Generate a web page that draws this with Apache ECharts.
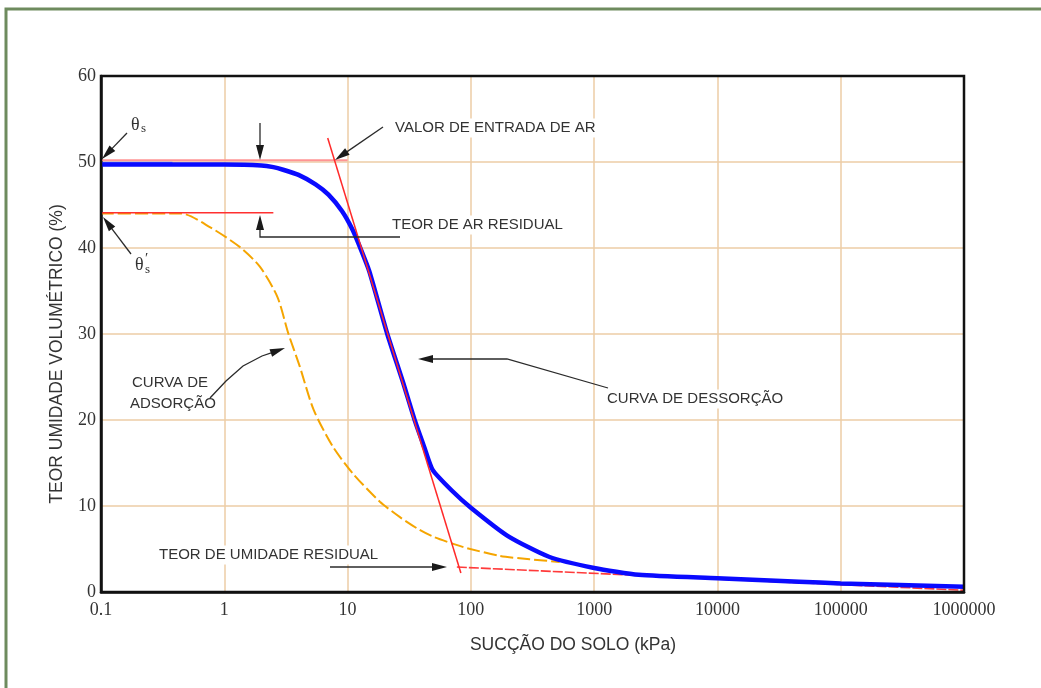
<!DOCTYPE html>
<html>
<head>
<meta charset="utf-8">
<script src="https://cdn.jsdelivr.net/npm/echarts@6/dist/echarts.min.js"></script>
<style>
  html, body { margin: 0; padding: 0; background: #ffffff; }
  #chart { width: 1041px; height: 688px; }
</style>
</head>
<body>
<div id="chart"></div>
<script>
// ---------- data ----------
const xTickLabels = ['0.1', '1', '10', '100', '1000', '10000', '100000', '1000000'];
const yTickLabels = ['0', '10', '20', '30', '40', '50', '60'];

// Curva de dessorção (blue, thick)
const suctionDes  = [0.1, 1, 2, 2.5, 3, 4, 5.5, 7, 9, 11, 12.6, 15, 21, 28, 35, 42, 49, 70, 100, 200, 430, 1000, 2300, 10000, 46000, 100000, 1000000];
const moistureDes = [49.7, 49.7, 49.6, 49.4, 49.1, 48.5, 47.4, 46.2, 44.3, 42.1, 40.1, 37.3, 30, 24.5, 20, 16.8, 14.2, 11.8, 9.8, 6.5, 4.1, 2.8, 2.0, 1.6, 1.2, 1.0, 0.6];

// Curva de adsorção (orange, dashed)
const suctionAds  = [0.1, 0.45, 0.77, 1.34, 1.95, 2.7, 3.3, 4.1, 5.3, 7.6, 11, 18.3, 26.6, 36.6, 50, 72, 93, 172, 300, 525];
const moistureAds = [44.0, 44.0, 42.4, 40.1, 37.8, 34.3, 30.1, 26.2, 21.2, 16.9, 13.8, 10.5, 8.7, 7.4, 6.4, 5.6, 5.1, 4.2, 3.8, 3.5];

// Construction lines (red)
const thetaSLineX   = [0.1, 10];    const thetaSLineY   = [50.2, 50.2];
const thetaSPLineX  = [0.1, 2.5];   const thetaSPLineY  = [44.1, 44.1];
const tangentX      = [6.9, 83];    const tangentY      = [52.8, 2.2];
const residualX     = [77, 1000000]; const residualY    = [2.9, 0.2];
const thinBlueX     = [0.1, 0.38];  const thinBlueY     = [49.95, 49.95];

// ---------- helpers ----------
const zip = (xs, ys) => xs.map((x, i) => [x, ys[i]]);

const chart = echarts.init(document.getElementById('chart'), null, { renderer: 'canvas' });

const txtColor = '#333333';
const sans = '"Liberation Sans", Arial, sans-serif';
const serif = '"Liberation Serif", "Times New Roman", serif';

// annotation layout (pixels)
const arrows = [
  { pts: [[127, 133], [102, 159]] },                      // theta_s
  { pts: [[131, 254], [103, 217]] },                      // theta_s'
  { pts: [[260, 123], [260, 160]] },                      // down arrow
  { pts: [[400, 237], [260, 237], [260, 215]] },          // teor de ar residual
  { pts: [[383, 127], [335, 160]] },                      // valor de entrada de ar
  { pts: [[210, 398], [226, 381], [243, 366], [262, 356], [285, 348]] }, // adsorção
  { pts: [[608, 388], [507, 359], [418, 359]] },          // dessorção
  { pts: [[330, 567], [447, 567]] }                       // umidade residual
];

const texts = [
  { t: 'VALOR DE ENTRADA DE AR', x: 393, y: 128 },
  { t: 'TEOR DE AR RESIDUAL', x: 390, y: 225 },
  { t: 'CURVA DE', x: 130, y: 383 },
  { t: 'ADSORÇÃO', x: 128, y: 404 },
  { t: 'CURVA DE DESSORÇÃO', x: 605, y: 399 },
  { t: 'TEOR DE UMIDADE RESIDUAL', x: 157, y: 555 }
];

const graphics = [];
// green frame
graphics.push({
  type: 'rect', silent: true, z: 0,
  shape: { x: 6, y: 9, width: 1200, height: 900 },
  style: { fill: null, stroke: '#6e8b5e', lineWidth: 3 }
});

arrows.forEach(a => {
  const p = a.pts;
  const n = p.length;
  const tip = p[n - 1], prev = p[n - 2];
  const dx = tip[0] - prev[0], dy = tip[1] - prev[1];
  const L = Math.hypot(dx, dy);
  const ux = dx / L, uy = dy / L;
  const len = 15, hw = 4;
  const bx = tip[0] - ux * len, by = tip[1] - uy * len;
  const linePts = p.slice(0, n - 1).concat([[bx + ux * 2, by + uy * 2]]);
  graphics.push({
    type: 'polyline', silent: true, z: 50,
    shape: { points: linePts },
    style: { stroke: '#2a2a2a', lineWidth: 1.3, fill: null }
  });
  graphics.push({
    type: 'polygon', silent: true, z: 50,
    shape: { points: [tip, [bx - uy * hw, by + ux * hw], [bx + uy * hw, by - ux * hw]] },
    style: { fill: '#1a1a1a' }
  });
});

texts.forEach(o => {
  graphics.push({
    type: 'text', silent: true, z: 45,
    x: o.x, y: o.y,
    style: {
      text: o.t, fill: txtColor, font: '15px ' + sans,
      textVerticalAlign: 'middle', verticalAlign: 'middle',
      backgroundColor: '#ffffff', padding: [2, 2, 2, 2]
    }
  });
});

// theta labels
graphics.push({ type: 'text', silent: true, z: 45, x: 131, y: 125,
  style: { text: 'θ', fill: txtColor, font: '18px ' + serif, verticalAlign: 'middle' } });
graphics.push({ type: 'text', silent: true, z: 45, x: 141, y: 129,
  style: { text: 's', fill: txtColor, font: '13px ' + serif, verticalAlign: 'middle' } });
graphics.push({ type: 'text', silent: true, z: 45, x: 135, y: 265,
  style: { text: 'θ', fill: txtColor, font: '18px ' + serif, verticalAlign: 'middle' } });
graphics.push({ type: 'text', silent: true, z: 45, x: 145, y: 259,
  style: { text: '′', fill: txtColor, font: '15px ' + serif, verticalAlign: 'middle' } });
graphics.push({ type: 'text', silent: true, z: 45, x: 145, y: 270,
  style: { text: 's', fill: txtColor, font: '13px ' + serif, verticalAlign: 'middle' } });

// axis titles
graphics.push({ type: 'text', silent: true, z: 45, x: 573, y: 645,
  style: { text: 'SUCÇÃO DO SOLO (kPa)', fill: txtColor, font: '17.5px ' + sans, align: 'center', verticalAlign: 'middle' } });
graphics.push({ type: 'text', silent: true, z: 45, x: 57, y: 354, rotation: Math.PI / 2,
  style: { text: 'TEOR UMIDADE VOLUMÉTRICO (%)', fill: txtColor, font: '17.5px ' + sans, align: 'center', verticalAlign: 'middle' } });

const gridColor = '#edcca6';

const option = {
  animation: false,
  backgroundColor: '#ffffff',
  grid: { left: 101, right: 77, top: 76, bottom: 96, show: true, borderColor: '#111', borderWidth: 2.5, backgroundColor: 'transparent', z: 10 },
  xAxis: {
    type: 'log', logBase: 10, min: 0.1, max: 1000000,
    axisLine: { show: true, lineStyle: { color: '#111', width: 2.5 } },
    axisTick: { show: false },
    minorTick: { show: false },
    splitLine: { show: true, showMinLine: false, showMaxLine: false, lineStyle: { color: gridColor, width: 1.5 } },
    axisLabel: {
      margin: 9, color: txtColor, fontFamily: serif, fontSize: 18,
      formatter: v => xTickLabels[Math.round(Math.log10(v)) + 1]
    }
  },
  yAxis: {
    type: 'value', min: 0, max: 60, interval: 10,
    axisLine: { show: true, lineStyle: { color: '#111', width: 2.5 } },
    axisTick: { show: false },
    splitLine: { show: true, showMinLine: false, showMaxLine: false, lineStyle: { color: gridColor, width: 1.5 } },
    axisLabel: {
      margin: 5, color: txtColor, fontFamily: serif, fontSize: 18,
      formatter: v => yTickLabels[Math.round(v / 10)]
    }
  },
  series: [
    { type: 'line', data: zip(thetaSLineX, thetaSLineY), symbol: 'none', z: 3,
      lineStyle: { color: '#ff9494', width: 2 } },
    { type: 'line', data: zip(residualX, residualY), symbol: 'none', z: 3,
      lineStyle: { color: '#ff3a3a', width: 1.6, type: [10, 2] } },
    { type: 'line', data: zip(suctionAds, moistureAds), symbol: 'none', smooth: 0.25, z: 4,
      lineStyle: { color: '#f5a500', width: 2, type: [13, 4] } },
    { type: 'line', data: zip(thetaSPLineX, thetaSPLineY), symbol: 'none', z: 5,
      lineStyle: { color: '#ff3030', width: 1.6 } },
    { type: 'line', data: zip(thinBlueX, thinBlueY), symbol: 'none', z: 5,
      lineStyle: { color: '#6b85ff', width: 1.5 } },
    { type: 'line', data: zip(suctionDes, moistureDes), symbol: 'none', smooth: 0.2, z: 6,
      lineStyle: { color: '#0a0aff', width: 4.5 } },
    { type: 'line', data: zip(tangentX, tangentY), symbol: 'none', z: 7,
      lineStyle: { color: '#ff2a2a', width: 1.5 } }
  ],
  graphic: graphics
};

chart.setOption(option);
</script>
</body>
</html>
